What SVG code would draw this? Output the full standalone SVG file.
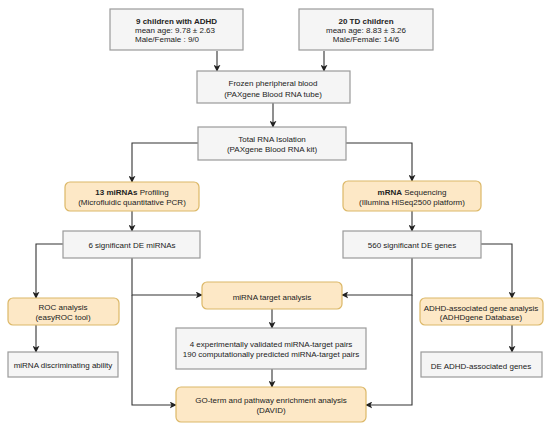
<svg xmlns="http://www.w3.org/2000/svg" width="550" height="429" viewBox="0 0 550 429">
<defs>
<marker id="ah" viewBox="0 0 10 10" refX="9" refY="5" markerWidth="7" markerHeight="7" markerUnits="userSpaceOnUse" orient="auto">
<path d="M0,0 L10,5 L0,10 L2.5,5 Z" fill="#222"/>
</marker>
<style>
.g{fill:#f5f5f5;stroke:#9a9a9a;stroke-width:1.2}
.o{fill:#fde8c6;stroke:#dcb868;stroke-width:1.2}
text{font-family:"Liberation Sans",Arial,sans-serif;font-size:8px;fill:#222;text-anchor:middle}
.b{font-weight:bold}
.c path{fill:none;stroke:#333;stroke-width:1.1;marker-end:url(#ah)}
</style>
</defs>
<rect width="550" height="429" fill="#fff"/>
<g class="c" id="connectors">
<path d="M217,51 V71"/>
<path d="M324,51 V71"/>
<path d="M273,103 V127"/>
<path d="M198,143 H132 V182"/>
<path d="M346,143 H412 V181"/>
<path d="M132,211 V231"/>
<path d="M412,211 V231"/>
<path d="M63,244 H36 V298"/>
<path d="M36,325 V352"/>
<path d="M132,258 V295 H202"/>
<path d="M132,295 V405 H176"/>
<path d="M412,258 V295 H342"/>
<path d="M412,295 V405 H366"/>
<path d="M481,244 H512 V298"/>
<path d="M512,325 V352"/>
<path d="M272,309 V328"/>
<path d="M272,369 V387"/>
</g>
<g id="adhd">
<rect class="g" x="110" y="9" width="133" height="41"/>
<text x="136" y="24" class="b" style="text-anchor:start">9 children with ADHD</text>
<text x="135" y="33" style="text-anchor:start">mean age:  9.78 ± 2.63</text>
<text x="135" y="42" style="text-anchor:start">Male/Female : 9/0</text>
</g>
<g id="td">
<rect class="g" x="299" y="9" width="134" height="41"/>
<text x="366" y="24" class="b">20 TD children</text>
<text x="366" y="33">mean age: 8.83 ± 3.26</text>
<text x="366" y="42">Male/Female: 14/6</text>
</g>
<g id="frozen">
<rect class="g" x="197" y="71" width="153" height="32"/>
<text x="273" y="86">Frozen pheripheral blood</text>
<text x="273" y="97">(PAXgene Blood RNA tube)</text>
</g>
<g id="total">
<rect class="g" x="198" y="127" width="148" height="33"/>
<text x="272" y="142">Total RNA Isolation</text>
<text x="272" y="152">(PAXgene Blood RNA kit)</text>
</g>
<g id="mirna">
<rect class="o" x="65" y="182" width="134" height="29" rx="5"/>
<text x="132" y="195"><tspan class="b">13 miRNAs</tspan> Profiling</text>
<text x="132" y="205">(Microfluidic quantitative PCR)</text>
</g>
<g id="mrna">
<rect class="o" x="343" y="181" width="138" height="30" rx="5"/>
<text x="412" y="195"><tspan class="b">mRNA</tspan> Sequencing</text>
<text x="412" y="205">(Illumina HiSeq2500 platform)</text>
</g>
<g id="sigmirna">
<rect class="g" x="63" y="231" width="137" height="27"/>
<text x="132" y="248">6 significant DE miRNAs</text>
</g>
<g id="siggenes">
<rect class="g" x="343" y="231" width="138" height="27"/>
<text x="412" y="248">560 significant DE genes</text>
</g>
<g id="roc">
<rect class="o" x="8" y="298" width="111" height="27" rx="5"/>
<text x="63" y="310">ROC analysis</text>
<text x="63" y="320">(easyROC tool)</text>
</g>
<g id="disc">
<rect class="g" x="8" y="352" width="110" height="25"/>
<text x="63" y="368">miRNA discriminating ability</text>
</g>
<g id="target">
<rect class="o" x="202" y="282" width="140" height="27" rx="5"/>
<text x="272" y="300">miRNA target analysis</text>
</g>
<g id="pairs">
<rect class="g" x="176" y="328" width="190" height="41"/>
<text x="271" y="347">4 experimentally validated miRNA-target pairs</text>
<text x="271" y="357">190 computationally predicted miRNA-target pairs</text>
</g>
<g id="go">
<rect class="o" x="176" y="387" width="190" height="35" rx="5"/>
<text x="271" y="403">GO-term and pathway enrichment analysis</text>
<text x="271" y="413">(DAVID)</text>
</g>
<g id="adhdgene">
<rect class="o" x="420" y="298" width="123" height="27" rx="5"/>
<text x="481" y="311">ADHD-associated gene analysis</text>
<text x="481" y="320">(ADHDgene Database)</text>
</g>
<g id="deadhd">
<rect class="g" x="421" y="352" width="121" height="25"/>
<text x="481" y="369">DE ADHD-associated genes</text>
</g>
</svg>
